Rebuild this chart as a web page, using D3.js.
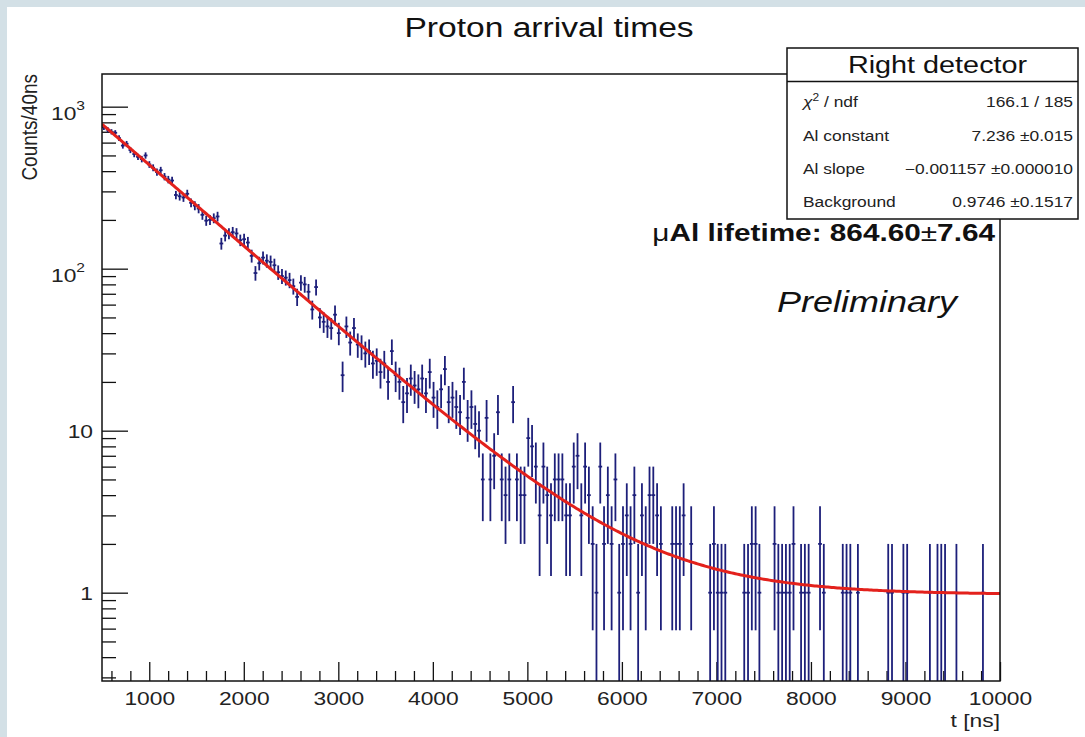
<!DOCTYPE html>
<html>
<head>
<meta charset="utf-8">
<script src="https://cdn.jsdelivr.net/npm/d3@7"></script>
<style>
  html, body { margin: 0; padding: 0; background: #fff; }
  svg { display: block; font-family: "Liberation Sans", Arial, Helvetica, sans-serif; }
</style>
</head>
<body>
<svg id="chart" width="1085" height="737"></svg>
<script>
// Histogram range in ns and per-bin proton counts (equal-width bins)
const tRange = [500, 10000];
const counts = [
  745, 722, 700, 690, 640, 575, 590, 540, 510, 490,
  475, 500, 440, 420, 395, 405, 370, 355, 350, 285,
  280, 275, 290, 255, 245, 235, 215, 198, 200, 205,
  210, 143, 160, 165, 168, 165, 150, 152, 145, 120,
  94, 108, 117, 112, 110, 105, 95, 90, 88, 85,
  78, 67, 82, 80, 72, 56, 77, 50, 47, 44,
  43, 52, 40, 22, 44, 35, 43, 34, 33, 30,
  31, 26, 27, 23, 26, 20, 31, 22, 20, 15,
  17, 21, 19, 18, 21, 17, 23, 16, 14, 18,
  24, 15, 16, 14, 13, 20, 12, 14, 11, 10,
  5, 12, 5, 7, 13, 5, 4, 5, 15, 5,
  4, 4, 9, 8, 6, 3, 6, 4, 3, 5,
  5, 5, 3, 3, 6, 7, 3, 6, 4, 2,
  1, 6, 2, 4, 2, 5, 1, 2, 3, 2,
  4, 1, 3, 2, 4, 4, 3, 2, 0, 0,
  2, 2, 2, 3, 0, 2, 0, 0, 0, 0,
  1, 2, 1, 1, 1, 0, 0, 0, 0, 1,
  1, 2, 2, 1, 0, 0, 0, 2, 1, 1,
  1, 1, 2, 0, 1, 1, 1, 0, 0, 2,
  1, 0, 0, 0, 0, 1, 1, 1, 0, 1,
  0, 0, 0, 0, 0, 0, 0, 1, 1, 0,
  0, 1, 1, 0, 0, 0, 0, 0, 1, 0,
  1, 1, 1, 0, 0, 1, 0, 0, 0, 0,
  0, 0, 1, 0, 0, 0, 0
];

// Fit model: exp(constant + slope * t) + background
const fitConstant = 7.236;
const fitSlope = -0.001157;
const fitBackground = 0.9746;

// Axis ticks
const xMajorTicks = [1000, 2000, 3000, 4000, 5000, 6000, 7000, 8000, 9000, 10000];
const yDomain = [0.285, 1591];
const yDecades = [1, 10, 100, 1000];
const yDecadeExponents = [null, null, 2, 3];

// Statistics box rows
const statsLabels = ["chi2", "Al constant", "Al slope", "Background"];
const statsValues = ["166.1 / 185", "7.236 \u00b10.015", "\u22120.001157 \u00b10.000010", "0.9746 \u00b10.1517"];

const W = 1085, H = 737;
const frame = { left: 102, right: 1000, top: 74, bottom: 681 };
const SX = 1.2; // text is drawn slightly widened

const svg = d3.select("#chart");

// page background with the light border strip
svg.append("rect").attr("width", W).attr("height", H).attr("fill", "#d3e0e6");
svg.append("rect").attr("x", 7).attr("y", 7).attr("width", W - 7).attr("height", H - 7).attr("fill", "#ffffff");

const x = d3.scaleLinear().domain(tRange).range([frame.left, frame.right]);
const y = d3.scaleLog().domain(yDomain).range([frame.bottom, frame.top]);

// helper: widened text anchored at (px, py)
function wtext(parent, px, py, anchor, size, opts = {}) {
  const g = parent.append("g").attr("transform", `translate(${px},${py}) scale(${SX},1)`);
  const t = g.append("text")
    .attr("text-anchor", anchor)
    .attr("font-size", size)
    .attr("fill", opts.fill || "#111");
  if (opts.weight) t.attr("font-weight", opts.weight);
  if (opts.style) t.attr("font-style", opts.style);
  return t;
}

// title
wtext(svg, 549, 37, "middle", 28).text("Proton arrival times");

// clip for the plotting area
svg.append("clipPath").attr("id", "plotclip")
  .append("rect")
  .attr("x", frame.left).attr("y", frame.top)
  .attr("width", frame.right - frame.left).attr("height", frame.bottom - frame.top);

// axes: ticks point into the frame
const xMinorTicks = d3.range(600, 10000, 200).filter(v => v % 1000 !== 0);
svg.append("g").attr("transform", `translate(0,${frame.bottom})`)
  .call(d3.axisBottom(x).tickValues(xMinorTicks).tickSize(-10).tickSizeOuter(0).tickFormat(""))
  .call(g => g.select(".domain").remove())
  .call(g => g.selectAll("line").attr("stroke", "#111").attr("stroke-width", 1.3));

const xAxis = svg.append("g").attr("transform", `translate(0,${frame.bottom})`)
  .call(d3.axisBottom(x).tickValues(xMajorTicks).tickSize(-19).tickSizeOuter(0).tickPadding(0)
    .tickFormat(d3.format("d")))
  .call(g => g.select(".domain").remove())
  .call(g => g.selectAll("line").attr("stroke", "#111").attr("stroke-width", 1.3));
xAxis.selectAll("text")
  .attr("y", 24).attr("dy", null)
  .attr("font-size", 19).attr("fill", "#222")
  .attr("font-family", "Liberation Sans, Arial, sans-serif")
  .attr("transform", `scale(${SX},1)`);

const yMinorTicks = [];
yDecades.forEach(d => { for (let m = 2; m <= 9; m++) yMinorTicks.push(d * m / 10); });
const yMinorIn = yMinorTicks.filter(v => v >= yDomain[0] && v <= yDomain[1] && !yDecades.includes(v));

svg.append("g").attr("transform", `translate(${frame.left},0)`)
  .call(d3.axisLeft(y).tickValues(yMinorIn).tickSize(-14).tickSizeOuter(0).tickFormat(""))
  .call(g => g.select(".domain").remove())
  .call(g => g.selectAll("line").attr("stroke", "#111").attr("stroke-width", 1.3));

svg.append("g").attr("transform", `translate(${frame.left},0)`)
  .call(d3.axisLeft(y).tickValues(yDecades).tickSize(-26).tickSizeOuter(0).tickFormat(""))
  .call(g => g.select(".domain").remove())
  .call(g => g.selectAll("line").attr("stroke", "#111").attr("stroke-width", 1.3));

// decade labels
yDecades.forEach((v, i) => {
  const e = yDecadeExponents[i];
  if (e === null) {
    wtext(svg, frame.left - 9, y(v) + 7, "end", 19, { fill: "#222" }).text(String(v));
  } else {
    const t = wtext(svg, frame.left - 17, y(v) + 13, "end", 19, { fill: "#222" });
    t.append("tspan").text("10");
    t.append("tspan").attr("font-size", 13).attr("dy", -10).text(String(e));
  }
});

// axis titles
svg.append("g").attr("transform", `translate(37,${frame.top}) scale(${SX},1) rotate(-90)`)
  .append("text").attr("text-anchor", "end").attr("font-size", 19).attr("fill", "#222")
  .text("Counts/40ns");
wtext(svg, frame.right, 727, "end", 19, { fill: "#222" }).text("t [ns]");

// histogram with Poisson error bars
const nBins = counts.length;
const binW = (tRange[1] - tRange[0]) / nBins;
const bins = counts.map((n, i) => ({
  lo: tRange[0] + i * binW,
  hi: tRange[0] + (i + 1) * binW,
  mid: tRange[0] + (i + 0.5) * binW,
  n
})).filter(b => b.n > 0);

const plot = svg.append("g").attr("clip-path", "url(#plotclip)");
const dataColor = "#1d1f7a";
const marks = plot.append("g").attr("stroke", dataColor).attr("stroke-width", 1.8).attr("fill", "none");

marks.selectAll("line.err").data(bins).join("line")
  .attr("class", "err")
  .attr("x1", b => x(b.mid)).attr("x2", b => x(b.mid))
  .attr("y1", b => { const lo = b.n - Math.sqrt(b.n); return lo > yDomain[0] ? y(lo) : frame.bottom + 2; })
  .attr("y2", b => y(b.n + Math.sqrt(b.n)));

marks.selectAll("line.wid").data(bins).join("line")
  .attr("class", "wid")
  .attr("x1", b => x(b.lo)).attr("x2", b => x(b.hi))
  .attr("y1", b => y(b.n)).attr("y2", b => y(b.n));

// fitted curve
const fitT = d3.range(tRange[0], tRange[1] + 1, 20);
const fitLine = d3.line()
  .x(t => x(t))
  .y(t => y(Math.exp(fitConstant + fitSlope * t) + fitBackground));
plot.append("path").datum(fitT)
  .attr("d", fitLine)
  .attr("fill", "none").attr("stroke", "#e3211c").attr("stroke-width", 3)
  .attr("stroke-linejoin", "round");

// frame
svg.append("rect")
  .attr("x", frame.left).attr("y", frame.top)
  .attr("width", frame.right - frame.left).attr("height", frame.bottom - frame.top)
  .attr("fill", "none").attr("stroke", "#111").attr("stroke-width", 1.5);

// annotations
const life = wtext(svg, 995, 241, "end", 24.8, { fill: "#111" });
life.append("tspan").text("\u03bc");
life.append("tspan").attr("font-weight", "bold").text("Al lifetime: 864.60");
life.append("tspan").text("\u00b1");
life.append("tspan").attr("font-weight", "bold").text("7.64");

wtext(svg, 777, 312, "start", 30, { fill: "#111", style: "italic" }).text("Preliminary");

// statistics box
const box = { x: 787, y: 48, w: 291, h: 171, head: 33.5 };
svg.append("rect").attr("x", box.x).attr("y", box.y).attr("width", box.w).attr("height", box.h)
  .attr("fill", "#fff").attr("stroke", "#111").attr("stroke-width", 1.5);
svg.append("line").attr("x1", box.x).attr("x2", box.x + box.w)
  .attr("y1", box.y + box.head).attr("y2", box.y + box.head)
  .attr("stroke", "#111").attr("stroke-width", 1.5);
wtext(svg, box.x + box.w / 2 + 5, box.y + 25, "middle", 24, { fill: "#111" }).text("Right detector");

const rowY = [106.5, 140.5, 173.5, 207];
statsLabels.forEach((lab, i) => {
  const t = wtext(svg, 803, rowY[i], "start", 14.5, { fill: "#222" });
  if (lab === "chi2") {
    t.append("tspan").attr("font-style", "italic").text("\u03c7");
    t.append("tspan").attr("font-size", 10).attr("dy", -6).text("2");
    t.append("tspan").attr("dy", 6).text(" / ndf");
  } else {
    t.text(lab);
  }
  wtext(svg, 1073, rowY[i], "end", 14.5, { fill: "#222" }).text(statsValues[i]);
});
</script>
</body>
</html>
